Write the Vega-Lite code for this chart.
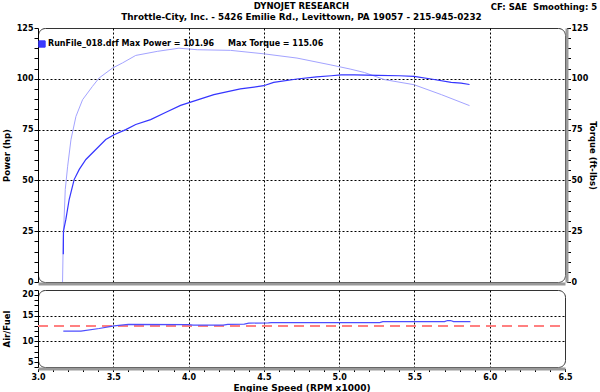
{
  "$schema": "https://vega.github.io/schema/vega-lite/v6.json",
  "padding": {"left": 1, "top": 1, "right": 0, "bottom": 0},
  "background": "white",
  "config": {
    "font": "DejaVu Sans",
    "view": {"stroke": "#333333", "strokeWidth": 1, "cornerRadius": 7},
    "axis": {
      "labelFont": "DejaVu Sans", "labelFontSize": 8, "labelFontWeight": "bold", "labelColor": "#000000",
      "titleFont": "DejaVu Sans", "titleFontSize": 8.5, "titleFontWeight": "bold", "titleColor": "#000000",
      "domainColor": "#000000", "tickColor": "#000000", "tickSize": 4, "labelPadding": 1,
      "labelOverlap": false, "labelFlush": false,
      "gridColor": "#000000", "gridDash": [2, 2], "gridWidth": 1
    }
  },
  "title": {"text": "CF: SAE\u00a0\u00a0Smoothing: 5", "anchor": "end", "frame": "bounds", "offset": -10, "fontSize": 8.5, "fontWeight": "bold", "font": "DejaVu Sans", "color": "#000000"},
  "datasets": {
    "power": [
      {"rpm": 3.168, "hp": 13.6}, {"rpm": 3.169, "hp": 25.0}, {"rpm": 3.185, "hp": 30.8}, {"rpm": 3.207, "hp": 40.6},
      {"rpm": 3.240, "hp": 50.4}, {"rpm": 3.274, "hp": 55.4}, {"rpm": 3.318, "hp": 60.3}, {"rpm": 3.384, "hp": 65.2},
      {"rpm": 3.450, "hp": 70.1}, {"rpm": 3.505, "hp": 72.5}, {"rpm": 3.583, "hp": 75.0}, {"rpm": 3.649, "hp": 77.5},
      {"rpm": 3.748, "hp": 79.9}, {"rpm": 3.850, "hp": 83.5}, {"rpm": 3.947, "hp": 86.9}, {"rpm": 4.060, "hp": 89.6},
      {"rpm": 4.168, "hp": 92.2}, {"rpm": 4.344, "hp": 95.0}, {"rpm": 4.499, "hp": 96.6}, {"rpm": 4.565, "hp": 98.2},
      {"rpm": 4.720, "hp": 99.9}, {"rpm": 4.850, "hp": 100.9}, {"rpm": 4.947, "hp": 101.5}, {"rpm": 5.013, "hp": 101.96},
      {"rpm": 5.100, "hp": 101.9}, {"rpm": 5.257, "hp": 101.7}, {"rpm": 5.400, "hp": 101.5}, {"rpm": 5.497, "hp": 101.2},
      {"rpm": 5.611, "hp": 99.9}, {"rpm": 5.744, "hp": 98.2}, {"rpm": 5.810, "hp": 97.9}, {"rpm": 5.866, "hp": 97.2}
    ],
    "torque": [
      {"rpm": 3.163, "tq": 0}, {"rpm": 3.168, "tq": 21}, {"rpm": 3.181, "tq": 45.5}, {"rpm": 3.197, "tq": 57},
      {"rpm": 3.219, "tq": 70.1}, {"rpm": 3.252, "tq": 81.5}, {"rpm": 3.296, "tq": 89.7}, {"rpm": 3.362, "tq": 96.3},
      {"rpm": 3.406, "tq": 100.4}, {"rpm": 3.495, "tq": 105.3}, {"rpm": 3.561, "tq": 107.8}, {"rpm": 3.649, "tq": 111.5},
      {"rpm": 3.792, "tq": 113.5}, {"rpm": 3.936, "tq": 115.06}, {"rpm": 4.058, "tq": 114.3}, {"rpm": 4.278, "tq": 114.0},
      {"rpm": 4.499, "tq": 112.3}, {"rpm": 4.720, "tq": 110.2}, {"rpm": 4.940, "tq": 106.9}, {"rpm": 5.073, "tq": 104.8},
      {"rpm": 5.168, "tq": 103.1}, {"rpm": 5.301, "tq": 99.6}, {"rpm": 5.497, "tq": 97.1}, {"rpm": 5.679, "tq": 92.2},
      {"rpm": 5.866, "tq": 86.8}
    ],
    "afr": [
      {"rpm": 3.168, "afr": 12.0}, {"rpm": 3.285, "afr": 12.0}, {"rpm": 3.406, "afr": 12.5}, {"rpm": 3.506, "afr": 13.0},
      {"rpm": 3.600, "afr": 13.3}, {"rpm": 4.000, "afr": 13.25}, {"rpm": 4.030, "afr": 13.15}, {"rpm": 4.230, "afr": 13.15},
      {"rpm": 4.260, "afr": 13.3}, {"rpm": 4.370, "afr": 13.35}, {"rpm": 4.400, "afr": 13.55}, {"rpm": 4.530, "afr": 13.6},
      {"rpm": 4.550, "afr": 13.65}, {"rpm": 5.270, "afr": 13.65}, {"rpm": 5.290, "afr": 13.85}, {"rpm": 5.700, "afr": 13.85},
      {"rpm": 5.720, "afr": 14.05}, {"rpm": 5.740, "afr": 14.05}, {"rpm": 5.760, "afr": 13.85}, {"rpm": 5.872, "afr": 13.85}
    ],
    "target": [{"afr": 13}]
  },
  "spacing": 8,
  "bounds": "flush",
  "vconcat": [
    {
      "width": 527,
      "height": 254,
      "title": {
        "text": "DYNOJET RESEARCH",
        "subtitle": "Throttle-City, Inc. - 5426 Emilie Rd., Levittown, PA 19057 - 215-945-0232",
        "anchor": "middle", "frame": "group", "offset": 2,
        "font": "DejaVu Sans", "fontSize": 8.5, "fontWeight": "bold", "color": "#000000",
        "subtitleFont": "DejaVu Sans", "subtitleFontSize": 8.8, "subtitleFontWeight": "bold", "subtitleColor": "#000000",
        "subtitlePadding": 3
      },
      "layer": [
        {
          "data": {"name": "torque"},
          "mark": {"type": "line", "color": "#a3a3ff", "strokeWidth": 1},
          "encoding": {
            "x": {"field": "rpm", "type": "quantitative", "scale": {"domain": [3, 6.5], "nice": false, "zero": false},
                  "axis": {"title": null, "labels": false, "ticks": false, "domain": true, "domainColor": "#9a9a9a", "domainWidth": 3, "offset": 1.5,
                           "grid": true, "values": [3.5, 4, 4.5, 5, 5.5, 6]}},
            "y": {"field": "tq", "type": "quantitative", "scale": {"domain": [0, 125], "nice": false},
                  "axis": {"orient": "right", "title": "Torque (ft-lbs)", "grid": false, "labelPadding": 0.5, "titlePadding": 0, "labelOverlap": false,
                           "domainColor": "#9a9a9a", "domainWidth": 3, "offset": 1.5,
                           "values": [0,5,10,15,20,25,30,35,40,45,50,55,60,65,70,75,80,85,90,95,100,105,110,115,120,125],
                           "labelExpr": "datum.value % 25 === 0 ? datum.label : ''"}}
          }
        },
        {
          "data": {"name": "power"},
          "mark": {"type": "line", "strokeWidth": 1.2},
          "encoding": {
            "x": {"field": "rpm", "type": "quantitative", "scale": {"domain": [3, 6.5], "nice": false, "zero": false},
                  "axis": {"title": null, "labels": false, "ticks": false, "domain": true, "domainColor": "#9a9a9a", "domainWidth": 3, "offset": 1.5,
                           "grid": true, "values": [3.5, 4, 4.5, 5, 5.5, 6]}},
            "y": {"field": "hp", "type": "quantitative", "scale": {"domain": [0, 125], "nice": false},
                  "axis": {"orient": "left", "title": "Power (hp)", "titlePadding": 5, "grid": true, "labelOverlap": false,
                           "values": [0,5,10,15,20,25,30,35,40,45,50,55,60,65,70,75,80,85,90,95,100,105,110,115,120,125],
                           "labelExpr": "datum.value % 25 === 0 ? datum.label : ''",
                           "gridOpacity": {"condition": {"test": "datum.value % 25 === 0 && datum.value > 0 && datum.value < 125", "value": 1}, "value": 0}}},
            "color": {"datum": "RunFile_018.drf Max Power = 101.96\u00a0\u00a0\u00a0\u00a0 Max Torque = 115.06", "type": "nominal",
                      "scale": {"range": ["#3535ff"]},
                      "legend": {"orient": "none", "legendX": 0, "legendY": 12, "title": null, "padding": 0,
                                 "symbolType": "square", "symbolSize": 40, "symbolFillColor": "#3a3aff", "symbolStrokeColor": "#000066", "symbolStrokeWidth": 1,
                                 "labelFont": "DejaVu Sans", "labelFontSize": 8, "labelFontWeight": "bold", "labelColor": "#000000",
                                 "labelLimit": 600, "labelOffset": 2}}
          }
        }
      ],
      "resolve": {"scale": {"y": "independent"}}
    },
    {
      "width": 527,
      "height": 77,
      "layer": [
        {
          "data": {"name": "target"},
          "mark": {"type": "rule", "color": "#ff8080", "strokeWidth": 2, "strokeDash": [10, 6]},
          "encoding": {
            "x": {"datum": 3, "type": "quantitative", "scale": {"domain": [3, 6.5], "nice": false, "zero": false},
                  "axis": {"title": "Engine Speed (RPM x1000)", "titleFontSize": 9, "tickSize": 3, "labelPadding": 1.5, "titlePadding": 2, "labelOverlap": false,
                           "domainColor": "#9a9a9a", "domainWidth": 3, "offset": 1.5,
                           "values": [3.0,3.1,3.2,3.3,3.4,3.5,3.6,3.7,3.8,3.9,4.0,4.1,4.2,4.3,4.4,4.5,4.6,4.7,4.8,4.9,5.0,5.1,5.2,5.3,5.4,5.5,5.6,5.7,5.8,5.9,6.0,6.1,6.2,6.3,6.4,6.5],
                           "labelExpr": "abs(datum.value*2 - round(datum.value*2)) < 0.001 ? format(datum.value, '.1f') : ''",
                           "grid": true,
                           "gridOpacity": {"condition": {"test": "abs(datum.value*2 - round(datum.value*2)) < 0.001 && datum.value > 3.01 && datum.value < 6.49", "value": 1}, "value": 0}}},
            "x2": {"datum": 6.5},
            "y": {"field": "afr", "type": "quantitative", "scale": {"domain": [4.999, 20.001], "nice": false, "zero": false},
                  "axis": {"orient": "left", "title": "Air/Fuel", "titlePadding": 10.6, "grid": false, "labelOverlap": false, "labelFlush": true, "domain": true, "ticks": true,
                           "values": [5,6,7,8,9,10,11,12,13,14,15,16,17,18,19,20],
                           "labelExpr": "datum.value % 5 === 0 ? datum.label : ''"}}
          }
        },
        {
          "data": {"name": "afr"},
          "mark": {"type": "line", "color": "#4d4dff", "strokeWidth": 1.2},
          "encoding": {
            "x": {"field": "rpm", "type": "quantitative", "scale": {"domain": [3, 6.5], "nice": false, "zero": false},
                  "axis": {"title": "Engine Speed (RPM x1000)", "titleFontSize": 9, "tickSize": 3, "labelPadding": 1.5, "titlePadding": 2, "labelOverlap": false,
                           "domainColor": "#9a9a9a", "domainWidth": 3, "offset": 1.5,
                           "values": [3.0,3.1,3.2,3.3,3.4,3.5,3.6,3.7,3.8,3.9,4.0,4.1,4.2,4.3,4.4,4.5,4.6,4.7,4.8,4.9,5.0,5.1,5.2,5.3,5.4,5.5,5.6,5.7,5.8,5.9,6.0,6.1,6.2,6.3,6.4,6.5],
                           "labelExpr": "abs(datum.value*2 - round(datum.value*2)) < 0.001 ? format(datum.value, '.1f') : ''",
                           "grid": true,
                           "gridOpacity": {"condition": {"test": "abs(datum.value*2 - round(datum.value*2)) < 0.001 && datum.value > 3.01 && datum.value < 6.49", "value": 1}, "value": 0}}},
            "y": {"field": "afr", "type": "quantitative", "scale": {"domain": [4.999, 20.001], "nice": false, "zero": false},
                  "axis": {"orient": "left", "title": null, "labels": false, "ticks": false, "domain": false, "grid": true,
                           "values": [10, 15]}}
          }
        }
      ],
      "resolve": {"axis": {"y": "independent"}}
    }
  ]
}
